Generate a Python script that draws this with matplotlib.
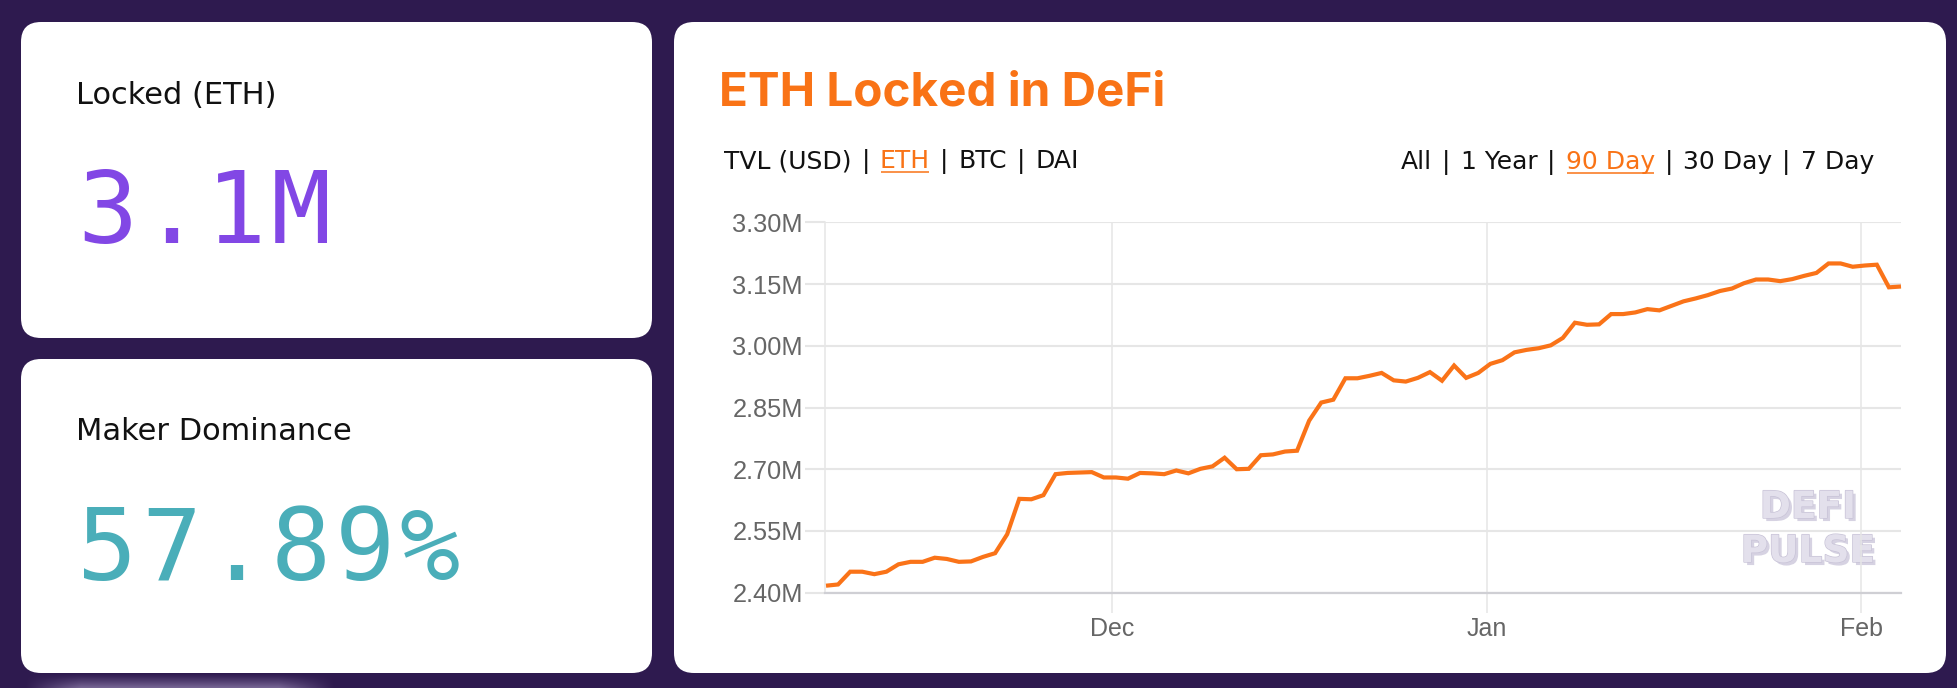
import matplotlib
matplotlib.use("Agg")
import matplotlib.pyplot as plt
import matplotlib.patheffects as pe
from matplotlib.patches import FancyBboxPatch
import numpy as np
import pandas as pd

# ---------------- data ----------------
card_titles = ["Locked (ETH)", "Maker Dominance"]
card_values = ["3.1M", "57.89%"]
chart_title = "ETH Locked in DeFi"
asset_options = ["TVL (USD)", "ETH", "BTC", "DAI"]
asset_selected = "ETH"
range_options = ["All", "1 Year", "90 Day", "30 Day", "7 Day"]
range_selected = "90 Day"

start_date = "2019-11-07 07:00"
eth_locked_m = [
    2.417, 2.420, 2.451, 2.451, 2.445, 2.451, 2.469, 2.475, 2.475, 2.485,
    2.482, 2.475, 2.476, 2.487, 2.496, 2.542, 2.628, 2.627, 2.637, 2.688,
    2.691, 2.692, 2.693, 2.680, 2.680, 2.677, 2.691, 2.690, 2.688, 2.697,
    2.690, 2.701, 2.707, 2.728, 2.700, 2.701, 2.734, 2.736, 2.743, 2.745,
    2.818, 2.862, 2.869, 2.921, 2.921, 2.927, 2.934, 2.916, 2.913, 2.922,
    2.936, 2.915, 2.952, 2.922, 2.934, 2.956, 2.965, 2.984, 2.990, 2.994,
    3.001, 3.019, 3.056, 3.051, 3.052, 3.077, 3.077, 3.081, 3.089, 3.086,
    3.097, 3.108, 3.115, 3.123, 3.133, 3.139, 3.152, 3.161, 3.161, 3.157,
    3.162, 3.170, 3.177, 3.200, 3.200, 3.192, 3.195, 3.197, 3.142, 3.144,
]
dates = pd.date_range(start_date, periods=len(eth_locked_m), freq="D")
y_ticks_m = [2.40, 2.55, 2.70, 2.85, 3.00, 3.15, 3.30]
x_tick_dates = pd.to_datetime(["2019-12-01", "2020-01-01", "2020-02-01"])
x_tick_labels = ["Dec", "Jan", "Feb"]
watermark = ["DEFI", "PULSE"]

# ---------------- style ----------------
W, H, DPI = 1958, 688, 100
BG = "#2e1a4f"
ORANGE = "#f97316"
LINE_ORANGE = "#fa7318"
PURPLE = "#8247e5"
TEAL = "#4aaeb9"
INK = "#111111"
GRID = "#e6e6e6"
TICKTXT = "#666666"
LABEL_FONT = "DejaVu Sans"
MONO_FONT = "DejaVu Sans Mono"
TITLE_FONT = ["Inter", "Roboto", "DejaVu Sans"]

fig = plt.figure(figsize=(W / DPI, H / DPI), dpi=DPI, facecolor=BG)
bg = fig.add_axes([0, 0, 1, 1])
bg.set_xlim(0, W)
bg.set_ylim(H, 0)
bg.axis("off")
bg.set_facecolor(BG)

# soft glow below the lower-left card
gx = np.linspace(0, 1, 300)
gy = np.linspace(0, 1, 20)
hx = np.clip(np.minimum(gx, 1 - gx) / 0.18, 0, 1)
alpha = np.outer(gy ** 1.2, hx) * 0.55
glow = np.zeros((20, 300, 4))
glow[..., 0] = 0.70
glow[..., 1] = 0.64
glow[..., 2] = 0.80
glow[..., 3] = alpha
bg.imshow(glow, extent=(25, 335, 688, 673), aspect="auto", zorder=0.5, interpolation="bilinear")
bg.set_xlim(0, W)
bg.set_ylim(H, 0)

# cards
cards = [(21, 22, 631, 316), (21, 359, 631, 314), (674, 22, 1272, 651)]
for (x0, y0, w, h) in cards:
    bg.add_patch(FancyBboxPatch((x0, y0), w, h,
                                boxstyle="round,pad=0,rounding_size=20",
                                facecolor="white", edgecolor="none", zorder=1))

# stat cards text
label_baselines = [104, 440]
value_baselines = [243, 580]
value_colors = [PURPLE, TEAL]
MONO_ADV = 64.5
for t, v, lb, vb, c in zip(card_titles, card_values, label_baselines, value_baselines, value_colors):
    bg.text(76, lb, t, fontsize=22, family=LABEL_FONT, color=INK, va="baseline", ha="left", zorder=3)
    for i, ch in enumerate(v):
        bg.text(75 + MONO_ADV * (i + 0.5), vb, ch, fontsize=72, family=MONO_FONT, color=c,
                va="baseline", ha="center", zorder=3)

# chart title
bg.text(719, 105, chart_title, fontsize=34.3, family=TITLE_FONT, fontweight="bold",
        color=ORANGE, va="baseline", ha="left", zorder=3)

renderer = fig.canvas.get_renderer()


def option_row(tokens, selected, x, y, fs, align="left", gap=10):
    seq = []
    for i, tok in enumerate(tokens):
        if i:
            seq.append(("|", False))
        seq.append((tok, tok == selected))
    texts = []
    for s, sel in seq:
        t = bg.text(0, y, s, fontsize=fs, family=LABEL_FONT,
                    color=ORANGE if sel else INK, va="baseline", ha="left", zorder=3)
        texts.append((t, sel))
    widths = [t.get_window_extent(renderer).width for t, _ in texts]
    total = sum(widths) + gap * (len(widths) - 1)
    cx = x if align == "left" else x - total
    for (t, sel), w in zip(texts, widths):
        t.set_x(cx)
        if sel:
            bg.plot([cx + 1, cx + w - 1], [y + 3.5, y + 3.5], color=ORANGE, lw=1.1,
                    solid_capstyle="butt", zorder=3)
        cx += w + gap


option_row(asset_options, asset_selected, 724, 168.5, 18)
option_row(range_options, range_selected, 1874, 169, 18, align="right")

# watermark (behind chart)
wm_fx = [pe.withSimplePatchShadow(offset=(2.2, -2.2), shadow_rgbFace="#d6d2e2", alpha=1.0),
         pe.Stroke(linewidth=1.0, foreground="#c8c3d7"), pe.Normal()]
for word, yb in zip(watermark, [518, 562]):
    bg.text(1808, yb, word, fontsize=27, family="DejaVu Sans", fontweight="bold",
            color="#e3e0ec", va="baseline", ha="center", zorder=2, path_effects=wm_fx)

# ---------------- chart ----------------
left, right, top, bottom = 825, 1901, 222.3, 592.7
ax = fig.add_axes([left / W, 1 - bottom / H, (right - left) / W, (bottom - top) / H])
ax.patch.set_alpha(0)
ax.plot(dates, eth_locked_m, color=LINE_ORANGE, lw=3.0, solid_joinstyle="miter",
        solid_capstyle="butt", zorder=4, clip_on=False)
ax.set_xlim(dates[0] - pd.Timedelta(hours=2), dates[-1])
ax.set_ylim(y_ticks_m[0], y_ticks_m[-1])
ax.set_yticks(y_ticks_m)
ax.set_yticklabels([f"{v:.2f}M" for v in y_ticks_m])
ax.set_xticks(x_tick_dates)
ax.set_xticklabels(x_tick_labels)
ax.yaxis.grid(True, color=GRID, lw=1.5)
ax.xaxis.grid(True, color=GRID, lw=1.1)
ax.set_axisbelow(True)
ax.tick_params(axis="y", length=14.4, width=1.5, color=GRID, pad=1.6,
               labelsize=18.3, labelcolor=TICKTXT)
ax.tick_params(axis="x", length=14.4, width=1.1, color=GRID, pad=3,
               labelsize=18, labelcolor=TICKTXT)
for lab in ax.get_xticklabels() + ax.get_yticklabels():
    lab.set_family("Liberation Sans")
for s in ["top", "right"]:
    ax.spines[s].set_visible(False)
ax.spines["left"].set_color(GRID)
ax.spines["left"].set_linewidth(1.1)
ax.spines["bottom"].set_color("#cfcfd4")
ax.spines["bottom"].set_linewidth(1.6)

fig.savefig("out.png", dpi=DPI, facecolor=BG)
